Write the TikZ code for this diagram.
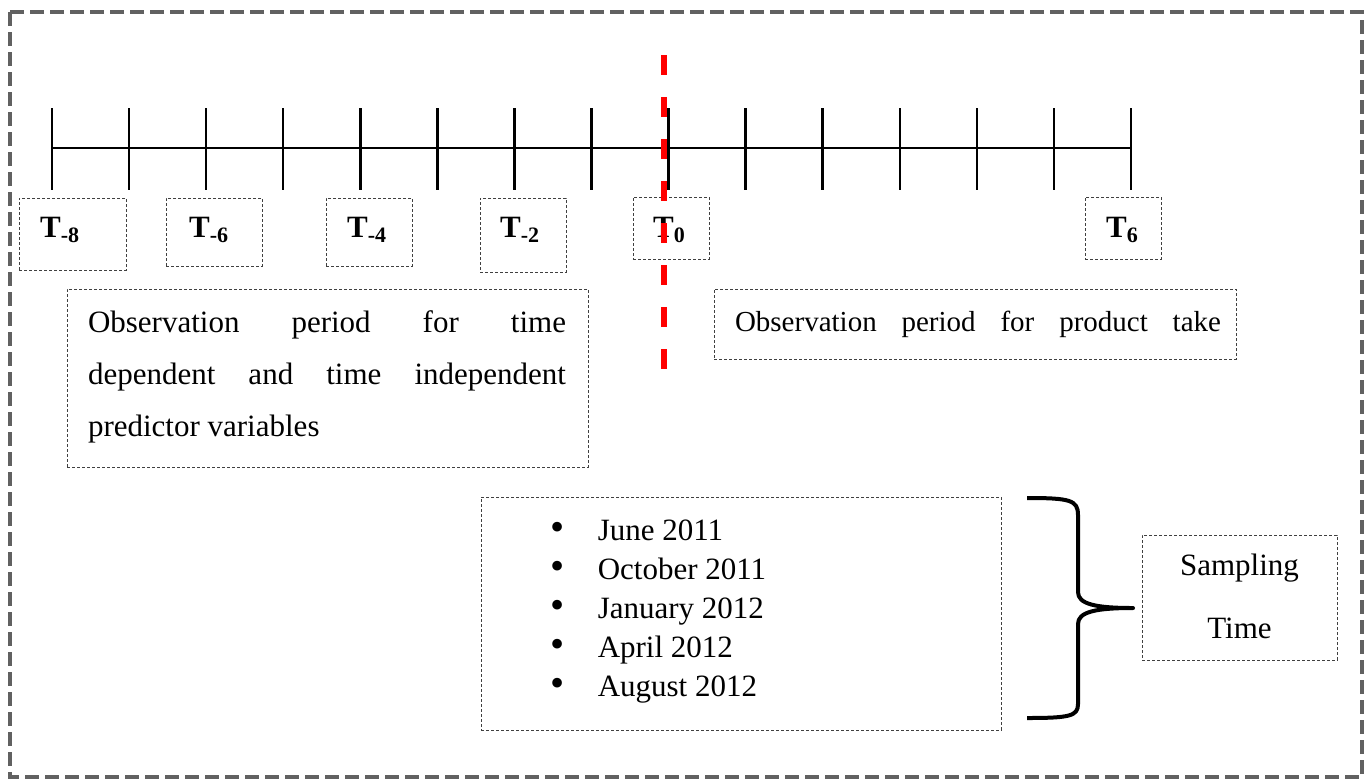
\documentclass[tikz,border=0pt]{standalone}
\usepackage{fontspec}
\setmainfont{Liberation Serif}
\newcommand\Tlab[1]{\textbf{T\raisebox{-5pt}{\fontsize{22}{22}\selectfont\bfseries #1}}}
\newcommand\bul{\hspace*{-3pt}\makebox[47pt][l]{\smash{\scalebox{1.3}{\textbullet}}}}
\begin{document}
\begin{tikzpicture}[x=1pt,y=-1pt,
  font=\fontsize{31}{37}\selectfont,
  frame/.style={draw=black!75, line width=1pt, dash pattern=on 3pt off 2pt, inner sep=0pt},
  outer/.style={draw=black!62, line width=4pt, dash pattern=on 14pt off 6pt},
  axis/.style={line width=2.5pt},
  cut/.style={draw=red, line width=6pt, dash pattern=on 20pt off 22pt},
  brace/.style={line width=4pt, line join=round},
  lab/.style={inner sep=0pt, anchor=base west}]
\useasboundingbox (0,0) rectangle (1370,780);
\draw[outer] (10,12) rectangle (1362,777);
% timeline
\coordinate (tl0) at (52,148);
\coordinate (tl1) at (1131,148);
\draw[axis] (tl0) -- (tl1);
\foreach \i in {0,...,14} \draw[axis] (52+77.07*\i,108) -- ++(0,82);
% T boxes
\node[frame, minimum width=107pt, minimum height=72pt] (b8) at (72.5,234) {};
\node[frame, minimum width=96pt, minimum height=68pt] (b6) at (214,232) {};
\node[frame, minimum width=86pt, minimum height=68pt] (b4) at (369,232) {};
\node[frame, minimum width=86pt, minimum height=74pt] (b2) at (523,235) {};
\node[frame, minimum width=76pt, minimum height=62pt] (b0) at (671,228) {};
\node[frame, minimum width=76pt, minimum height=62pt] (bp6) at (1123,228) {};
\node[lab] (l8) at (40,237) {\Tlab{-8}};
\node[lab] (l6) at (189,237) {\Tlab{-6}};
\node[lab] (l4) at (347,237) {\Tlab{-4}};
\node[lab] (l2) at (500,237) {\Tlab{-2}};
\node[lab] (l0) at (653,237) {\Tlab{0}};
\node[lab] (lp6) at (1106,237) {\Tlab{6}};
% observation boxes
\node[frame, minimum width=521pt, minimum height=178pt] (obsl) at (327.5,378) {};
\node[inner sep=0pt, align=left, font=\fontsize{31}{52}\selectfont] (obsltxt) at (327,376.5)
  {\makebox[478pt][s]{Observation period for time}\\
   \makebox[478pt][s]{dependent and time independent}\\
   predictor variables};
\node[frame, minimum width=522pt, minimum height=70pt] (obsr) at (975,324) {};
\node[inner sep=0pt, anchor=base, font=\fontsize{29}{35}\selectfont] (obsrtxt) at (978,331)
  {\makebox[486pt][s]{Observation period for product take}};
% red cut line
\coordinate (rtop) at (664,55);
\coordinate (rbot) at (664,372);
\draw[cut] (rtop) -- (rbot);
% dates
\node[frame, minimum width=520pt, minimum height=233pt] (dates) at (741,613.5) {};
\node[inner sep=0pt, align=left, font=\fontsize{31}{39}\selectfont] (datestxt) at (660,612)
  {\bul June 2011\\ \bul October 2011\\ \bul January 2012\\ \bul April 2012\\ \bul August 2012};
% brace
\coordinate (btop) at (1027,498);
\coordinate (btip) at (1133,608);
\coordinate (bbot) at (1027,718);
\draw[brace] (btop) .. controls (1070,498) and (1078,500) .. (1078,515) -- (1078,592)
  .. controls (1078,604) and (1095,608) .. (btip)
  .. controls (1095,608) and (1078,612) .. (1078,624) -- (1078,704)
  .. controls (1078,716) and (1070,718) .. (bbot);
% sampling
\node[frame, minimum width=195pt, minimum height=125pt] (samp) at (1239.5,597.5) {};
\node[inner sep=0pt, align=center, font=\fontsize{31}{63}\selectfont] (samptxt) at (1239.5,596)
  {Sampling\\Time};
\end{tikzpicture}
\end{document}
